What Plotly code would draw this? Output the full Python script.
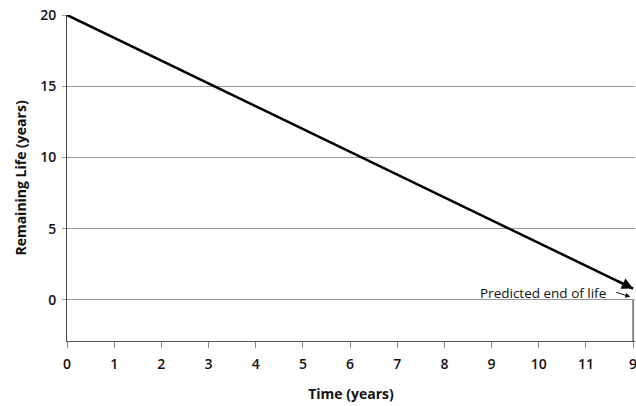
import plotly.graph_objects as go

# Data
time_years = [0, 12]
remaining_life = [20, 0.8]
x_tick_vals = [0, 1, 2, 3, 4, 5, 6, 7, 8, 9, 10, 11, 12]
x_tick_text = ["0", "1", "2", "3", "4", "5", "6", "7", "8", "9", "10", "11", "9"]
y_tick_vals = [0, 5, 10, 15, 20]
end_x = 12
end_y = 0.0
label_text = "Predicted end of life"

FONT = "Open Sans"
Y_MIN = -2.88

fig = go.Figure()
fig.add_trace(go.Scatter(
    x=time_years, y=remaining_life, mode="lines",
    line=dict(color="black", width=2.5), showlegend=False, hoverinfo="skip",
    cliponaxis=False,
))

slope = (remaining_life[-1] - remaining_life[0]) / (time_years[-1] - time_years[0])
# arrowhead at the end of the main line
fig.add_annotation(
    x=time_years[-1], y=remaining_life[-1],
    ax=time_years[-1] - 0.4, ay=remaining_life[-1] - 0.4 * slope,
    axref="x", ayref="y", xref="x", yref="y",
    text=" ", showarrow=True, arrowhead=2, arrowsize=0.9, arrowwidth=2.5, arrowcolor="black",
    standoff=0,
)

# vertical line at end of life
fig.add_shape(type="line", x0=end_x, x1=end_x, y0=end_y, y1=Y_MIN,
              line=dict(color="#8a8a8a", width=2), layer="above")

# label
fig.add_annotation(
    x=11.46, y=0.5, xref="x", yref="y", text=label_text, showarrow=False,
    xanchor="right", yanchor="middle",
    font=dict(family=FONT, size=13.5, color="#111"),
)
fig.add_annotation(
    x=end_x - 0.06, y=0.22, ax=11.57, ay=0.62, axref="x", ayref="y", xref="x", yref="y",
    text=" ", showarrow=True, arrowhead=2, arrowsize=1, arrowwidth=1, arrowcolor="#111",
    standoff=0,
)

fig.update_layout(
    width=636, height=406,
    margin=dict(l=67, r=1, t=15, b=65),
    paper_bgcolor="white", plot_bgcolor="white",
    font=dict(family=FONT, size=14, color="#111"),
    showlegend=False,
)
fig.update_xaxes(
    range=[0, 12.04], tickvals=x_tick_vals, ticktext=x_tick_text,
    showgrid=False, zeroline=False, automargin=False, ticklabeloverflow="allow",
    showline=True, linecolor="#555", linewidth=1,
    ticks="outside", ticklen=6, tickcolor="#888", tickwidth=1, ticklabelstandoff=4,
    tickfont=dict(family=FONT, size=14, color="#111", weight=600),
    title=dict(text="Time (years)", font=dict(family=FONT, size=14, color="#111", weight=700), standoff=17),
)
fig.update_yaxes(
    range=[Y_MIN, 20], tickvals=y_tick_vals,
    showgrid=True, gridcolor="#9a9a9a", gridwidth=1, zeroline=False, automargin=False,
    showline=True, linecolor="#444", linewidth=1,
    ticks="outside", ticklen=4, tickcolor="#9a9a9a", ticklabelstandoff=3,
    tickfont=dict(family=FONT, size=14, color="#111", weight=600),
    title=dict(text="Remaining Life (years)", font=dict(family=FONT, size=14, color="#111", weight=700), standoff=10),
)

fig.write_html("out.html", config={"displayModeBar": False},
               post_script="document.body.style.margin='0';")
